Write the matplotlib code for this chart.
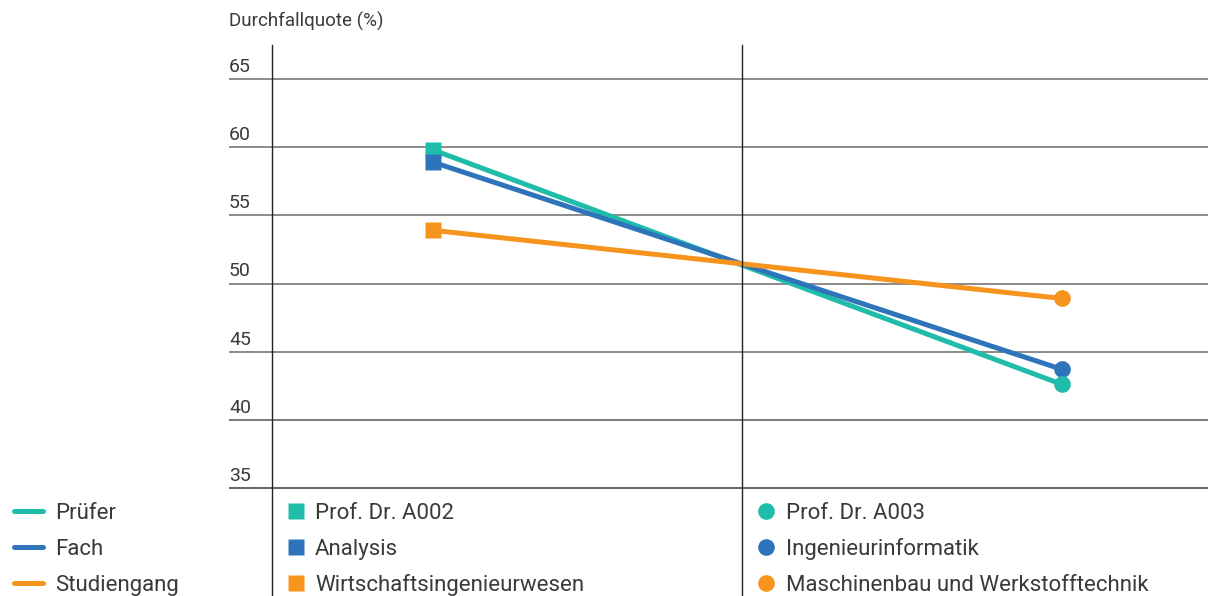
import matplotlib
matplotlib.use("Agg")
import matplotlib.pyplot as plt
from matplotlib.lines import Line2D
from matplotlib import transforms

# Data
series_names = ["Prüfer", "Fach", "Studiengang"]
left_labels = ["Prof. Dr. A002", "Analysis", "Wirtschaftsingenieurwesen"]
right_labels = ["Prof. Dr. A003", "Ingenieurinformatik", "Maschinenbau und Werkstofftechnik"]
left_values = [59.8, 58.9, 53.9]
right_values = [42.6, 43.7, 48.9]
y_ticks = [35, 40, 45, 50, 55, 60, 65]
y_title = "Durchfallquote (%)"

colors = ["#20bcaa", "#2e74bb", "#f7941e"]
text_color = "#3a3a3a"

plt.rcParams["font.family"] = ["Roboto", "DejaVu Sans"]

W, H = 1208, 596
fig = plt.figure(figsize=(W / 100, H / 100), dpi=100)


def fx(px):
    return px / W


def fy(py):
    return 1 - py / H


# Plot area in pixel layout
ax_left, ax_right, ax_top, ax_bottom = 272, 1208, 45, 488
ax = fig.add_axes([fx(ax_left), fy(ax_bottom), fx(ax_right - ax_left), (ax_bottom - ax_top) / H])
ax.set_axis_off()

x_left_pt, x_right_pt = 433, 1062
span = x_right_pt - x_left_pt
ax.set_xlim(-(x_left_pt - ax_left) / span, 1 + (ax_right - x_right_pt) / span)
px_per_unit = (487.7 - 78.7) / 30
ax.set_ylim(35, 35 + (ax_bottom - ax_top) / px_per_unit)

blend = transforms.blended_transform_factory(ax.transAxes, ax.transData)
grid_x0 = (229 - ax_left) / (ax_right - ax_left)

# Horizontal grid lines and labels
for v in y_ticks:
    if v == 35:
        col, lw = "#3a3a3a", 1.1
    elif v == 40:
        col, lw = "#555555", 1.1
    else:
        col, lw = "#8a8a8a", 1.4
    ax.plot([grid_x0, 1], [v, v], transform=blend, color=col, lw=lw,
            clip_on=False, zorder=1, solid_capstyle="butt")
    ax.annotate(str(v), xy=(grid_x0, v), xycoords=blend, xytext=(0, 7),
                textcoords="offset pixels", ha="left", va="baseline",
                fontsize=14, color=text_color)

# Vertical separators (run through the legend area)
for xp in (272, 742):
    fig.add_artist(Line2D([fx(xp), fx(xp)], [fy(45), fy(596)], color="#222222", lw=1.0))

# Series lines with end markers
for i in range(len(series_names)):
    ax.plot([0, 1], [left_values[i], right_values[i]], color=colors[i], lw=3.6,
            solid_capstyle="butt", zorder=3, clip_on=False)
for i in range(len(series_names)):
    ax.plot([0], [left_values[i]], marker="s", ms=11.5, color=colors[i],
            mec="none", zorder=4, clip_on=False)
for i in [2, 1, 0]:
    ax.plot([1], [right_values[i]], marker="o", ms=12, color=colors[i],
            mec="none", zorder=4, clip_on=False)

# Axis title
fig.text(fx(229), fy(27), y_title, ha="left", va="baseline", fontsize=13.5,
         color=text_color)

# Legend rows
row_y = [511, 547, 583]
for i, yy in enumerate(row_y):
    base = fy(yy + 8)
    fig.add_artist(Line2D([fx(14), fx(43)], [fy(yy), fy(yy)], color=colors[i],
                          lw=3.6, solid_capstyle="round"))
    fig.text(fx(55), base, series_names[i], ha="left", va="baseline",
             fontsize=16, color=text_color)
    fig.add_artist(Line2D([fx(296)], [fy(yy)], marker="s", ms=11, color=colors[i],
                          mec="none", lw=0))
    fig.text(fx(315), base, left_labels[i], ha="left", va="baseline",
             fontsize=16, color=text_color)
    fig.add_artist(Line2D([fx(766)], [fy(yy)], marker="o", ms=12, color=colors[i],
                          mec="none", lw=0))
    fig.text(fx(786), base, right_labels[i], ha="left", va="baseline",
             fontsize=16, color=text_color)

fig.savefig("out.png", dpi=100, facecolor="white")
